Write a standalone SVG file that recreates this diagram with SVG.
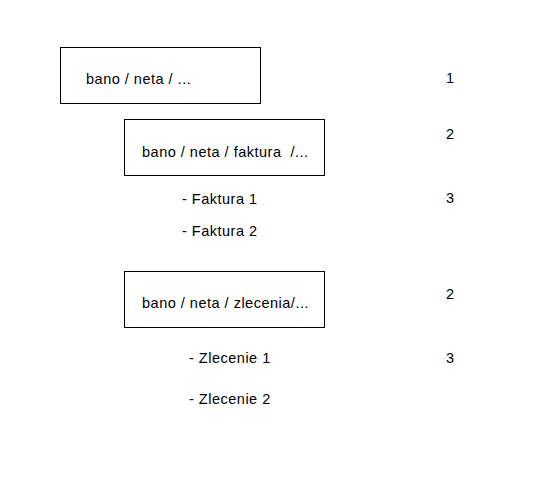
<svg xmlns="http://www.w3.org/2000/svg" width="545" height="489" viewBox="0 0 545 489">
<style>
.box{fill:#fff;stroke:#000;stroke-width:1}
text{font-family:"Liberation Sans",Arial,sans-serif;font-size:14.5px;letter-spacing:0.5px;fill:#000;white-space:pre}
</style>
<rect width="545" height="489" fill="#fff"/>
<g id="node1"><rect class="box" x="60.5" y="47.5" width="200" height="56"/><text x="86" y="84">bano / neta / ...</text></g>
<g id="node2"><rect class="box" x="124.5" y="119.5" width="200" height="56"/><text x="142" y="157" xml:space="preserve">bano / neta / faktura  /...</text></g>
<g id="node3"><rect class="box" x="124.5" y="271.5" width="200" height="56"/><text x="142" y="308">bano / neta / zlecenia/...</text></g>
<g id="items">
<text x="182" y="204">- Faktura 1</text>
<text x="182" y="236">- Faktura 2</text>
<text x="189" y="363">- Zlecenie 1</text>
<text x="189" y="404">- Zlecenie 2</text>
</g>
<g id="levels">
<text x="446" y="83">1</text>
<text x="446" y="139">2</text>
<text x="446" y="203">3</text>
<text x="446" y="299">2</text>
<text x="446" y="363">3</text>
</g>
<g id="connectors"/>
</svg>
